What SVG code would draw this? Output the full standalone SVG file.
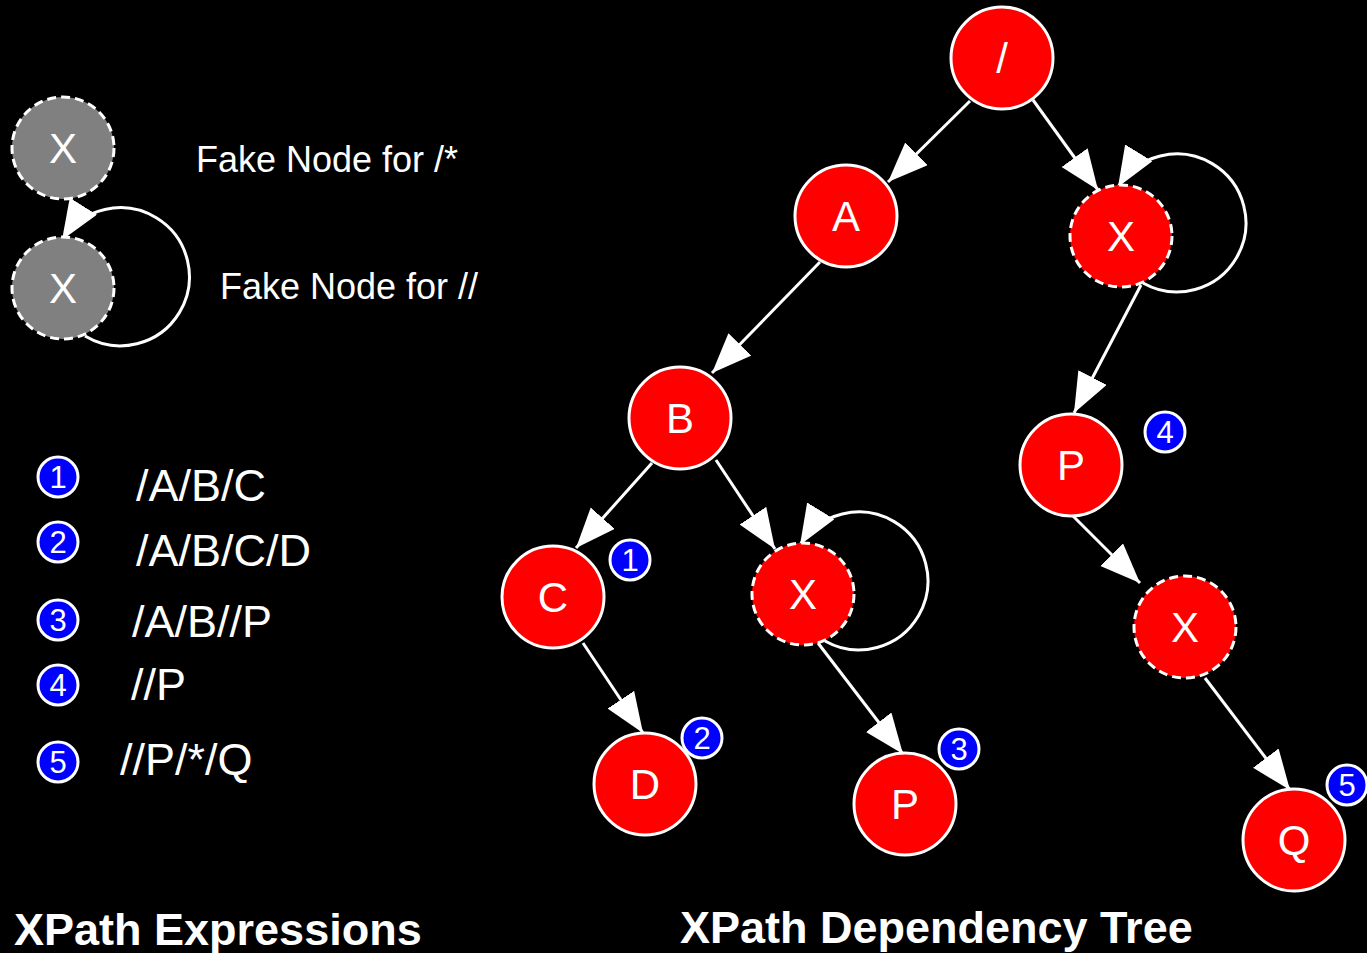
<svg xmlns="http://www.w3.org/2000/svg" width="1367" height="953" viewBox="0 0 1367 953">
<style>
.n{fill:#ff0000;stroke:#fff;stroke-width:3}
.f{fill:#ff0000;stroke:#fff;stroke-width:3;stroke-dasharray:9 5}
.g{fill:#808080;stroke:#fff;stroke-width:3;stroke-dasharray:9 5}
.b{fill:#0000ff;stroke:#fff;stroke-width:3}
.t{font-family:"Liberation Sans",Arial,sans-serif;fill:#fff;text-anchor:middle}
.nl{font-size:42px}
.bl{font-size:31px}
.e{stroke:#fff;stroke-width:3;fill:none}
.lx{font-family:"Liberation Sans",Arial,sans-serif;fill:#fff;font-size:45px}
.fk{font-family:"Liberation Sans",Arial,sans-serif;fill:#fff;font-size:36px}
.ti{font-family:"Liberation Sans",Arial,sans-serif;fill:#fff;font-size:45px;font-weight:bold}
</style>
<defs>
<marker id="ah" markerUnits="userSpaceOnUse" markerWidth="42" markerHeight="34" refX="40" refY="16" orient="auto">
<path d="M0,0 L40,16 L0,32 z" fill="#fff"/>
</marker>
</defs>
<rect width="1367" height="953" fill="#000"/>

<g id="connectors">
<line class="e" x1="970" y1="101" x2="888" y2="182" marker-end="url(#ah)"/>
<line class="e" x1="1033" y1="100" x2="1098" y2="190" marker-end="url(#ah)"/>
<line class="e" x1="820" y1="262" x2="712" y2="373" marker-end="url(#ah)"/>
<line class="e" x1="1141" y1="285" x2="1074" y2="413" marker-end="url(#ah)"/>
<line class="e" x1="652" y1="463" x2="576" y2="548" marker-end="url(#ah)"/>
<line class="e" x1="716" y1="460" x2="775" y2="549" marker-end="url(#ah)"/>
<line class="e" x1="583" y1="643" x2="643" y2="733" marker-end="url(#ah)"/>
<line class="e" x1="818" y1="643" x2="903" y2="754" marker-end="url(#ah)"/>
<line class="e" x1="1073" y1="516" x2="1140" y2="583" marker-end="url(#ah)"/>
<line class="e" x1="1205" y1="678" x2="1290" y2="790" marker-end="url(#ah)"/>
<path class="e" d="M1143,283 A69,69 0 1 0 1118,187" marker-end="url(#ah)"/>
<path class="e" d="M825,641 A69,69 0 1 0 800,545" marker-end="url(#ah)"/>
<path class="e" d="M85,336 A69,69 0 1 0 62,240" marker-end="url(#ah)"/>
</g>

<g id="legend-fake1"><circle class="g" cx="63" cy="148" r="51"/><text class="t nl" x="63" y="163">X</text></g>
<g id="legend-fake2"><circle class="g" cx="63" cy="288" r="51"/><text class="t nl" x="63" y="303">X</text></g>
<text class="fk" x="196" y="172">Fake Node for /*</text>
<text class="fk" x="220" y="299">Fake Node for //</text>

<g id="leg1"><circle class="b" cx="58" cy="477" r="20"/><text class="t bl" x="58" y="488">1</text></g>
<g id="leg2"><circle class="b" cx="58" cy="542" r="20"/><text class="t bl" x="58" y="553">2</text></g>
<g id="leg3"><circle class="b" cx="58" cy="620" r="20"/><text class="t bl" x="58" y="631">3</text></g>
<g id="leg4"><circle class="b" cx="58" cy="685" r="20"/><text class="t bl" x="58" y="696">4</text></g>
<g id="leg5"><circle class="b" cx="58" cy="762" r="20"/><text class="t bl" x="58" y="773">5</text></g>
<text class="lx" x="136" y="501">/A/B/C</text>
<text class="lx" x="136" y="566">/A/B/C/D</text>
<text class="lx" x="132" y="637">/A/B//P</text>
<text class="lx" x="131" y="700">//P</text>
<text class="lx" x="120" y="775">//P/*/Q</text>

<g id="root"><circle class="n" cx="1002" cy="58" r="51"/><text class="t nl" x="1002" y="73">/</text></g>
<g id="A"><circle class="n" cx="846" cy="216" r="51"/><text class="t nl" x="846" y="231">A</text></g>
<g id="X1"><circle class="f" cx="1121" cy="236" r="51"/><text class="t nl" x="1121" y="251">X</text></g>
<g id="B"><circle class="n" cx="680" cy="418" r="51"/><text class="t nl" x="680" y="433">B</text></g>
<g id="P4"><circle class="n" cx="1071" cy="465" r="51"/><text class="t nl" x="1071" y="480">P</text></g>
<g id="C"><circle class="n" cx="553" cy="597" r="51"/><text class="t nl" x="553" y="612">C</text></g>
<g id="X2"><circle class="f" cx="803" cy="594" r="51"/><text class="t nl" x="803" y="609">X</text></g>
<g id="X3"><circle class="f" cx="1185" cy="627" r="51"/><text class="t nl" x="1185" y="642">X</text></g>
<g id="D"><circle class="n" cx="645" cy="784" r="51"/><text class="t nl" x="645" y="799">D</text></g>
<g id="P3"><circle class="n" cx="905" cy="804" r="51"/><text class="t nl" x="905" y="819">P</text></g>
<g id="Q"><circle class="n" cx="1294" cy="840" r="51"/><text class="t nl" x="1294" y="855">Q</text></g>

<g id="badge1"><circle class="b" cx="630" cy="560" r="20"/><text class="t bl" x="630" y="571">1</text></g>
<g id="badge2"><circle class="b" cx="702" cy="738" r="20"/><text class="t bl" x="702" y="749">2</text></g>
<g id="badge3"><circle class="b" cx="959" cy="749" r="20"/><text class="t bl" x="959" y="760">3</text></g>
<g id="badge4"><circle class="b" cx="1165" cy="432" r="20"/><text class="t bl" x="1165" y="443">4</text></g>
<g id="badge5"><circle class="b" cx="1347" cy="785" r="20"/><text class="t bl" x="1347" y="796">5</text></g>

<text class="ti" x="14" y="945">XPath Expressions</text>
<text class="ti" x="680" y="943">XPath Dependency Tree</text>
</svg>
